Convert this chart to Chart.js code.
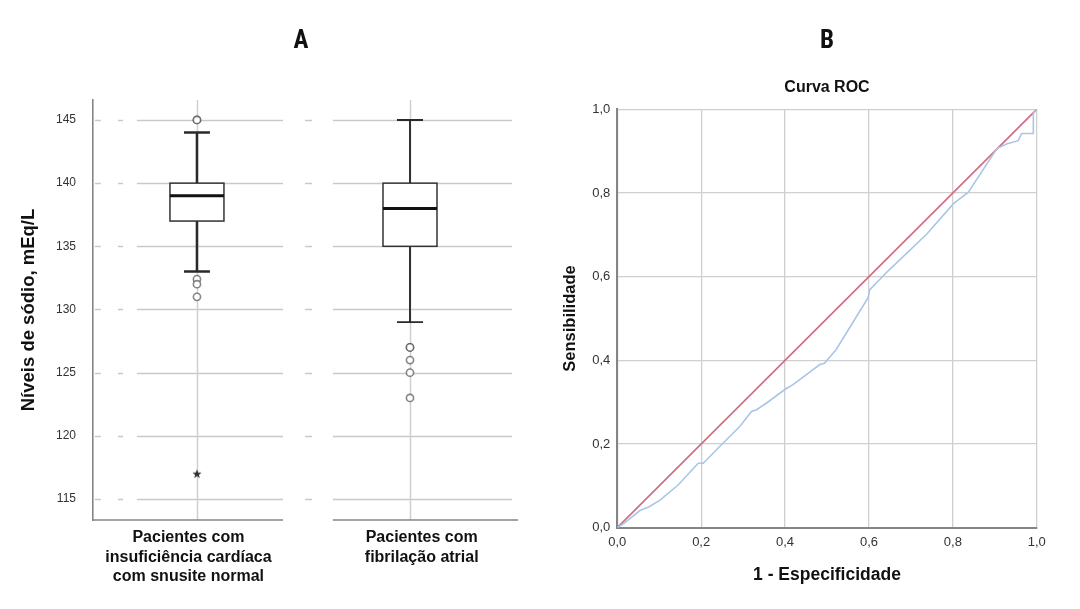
<!DOCTYPE html>
<html><head><meta charset="utf-8">
<script src="https://cdn.jsdelivr.net/npm/chart.js@4/dist/chart.umd.min.js"></script>
<style>
html,body{margin:0;padding:0;background:#fff;width:1080px;height:609px;overflow:hidden;position:relative}
#cA{position:absolute;left:0;top:0}
#cB{position:absolute;left:540px;top:0}
</style></head><body>
<canvas id="cA" width="602" height="609"></canvas>
<canvas id="cB" width="574" height="609"></canvas>
<script>
// ---------- DATA ----------
const panelTitles = ['A', 'B'];
const rocTitle = 'Curva ROC';
const categories = [["Pacientes com","insuficiência cardíaca","com snusite normal"],["Pacientes com","fibrilação atrial"]];
const categoryPos = [1, 2];
const whiskerLow  = [133, 129];
const q1          = [137, 135];
const median      = [139, 138];
const q3          = [140, 140];
const whiskerHigh = [144, 145];
const outliers    = [[145, 145, 132.4, 132, 131], [127, 127, 126, 125, 123]];
const extremes    = [[117], []];
const yTicks      = [115, 120, 125, 130, 135, 140, 145];

const rocFpr = [0, 0.015, 0.054, 0.076, 0.102, 0.145, 0.193, 0.205, 0.244, 0.292, 0.320, 0.332, 0.356, 0.402, 0.419, 0.483, 0.494, 0.522, 0.598, 0.602, 0.646, 0.738, 0.801, 0.837, 0.905, 0.928, 0.956, 0.964, 0.992, 0.992, 1.0];
const rocTpr = [0, 0.010, 0.041, 0.050, 0.066, 0.102, 0.154, 0.154, 0.194, 0.242, 0.278, 0.282, 0.298, 0.332, 0.342, 0.390, 0.393, 0.426, 0.550, 0.569, 0.614, 0.702, 0.774, 0.802, 0.906, 0.917, 0.925, 0.942, 0.942, 0.990, 1.0];
const refX = [0, 1];
const refY = [0, 1];
const rocTicks = [0, 0.2, 0.4, 0.6, 0.8, 1.0];

// ---------- STYLE ----------
const SF = "'Liberation Sans',Arial,sans-serif";
const CF = "'Roboto Condensed','Open Sans Condensed',sans-serif";
const GRID = '#c9c9c9';
const AXIS = '#858585';
const gridPieces = [[0.521,0.549],[0.629,0.653],[0.718,1.404],[1.507,1.540],[1.638,2.479]];
const axisPieces = [[0.512,1.404],[1.638,2.507]];
const labelShift = [-0.04, 0.055];
const whiskerWidth = [2.5, 1.9];
const BOX_HALF = 27, CAP_HALF = 13;

Chart.defaults.animation = false;

// invisible right-side spacer axis (keeps titles centred over the whole panel)
const spacer = w => ({ type: 'linear', position: 'right', display: true,
  grid: { display: false, drawTicks: false }, border: { display: false },
  ticks: { display: false }, afterFit: s => { s.width = w; } });

const star = document.createElement('canvas');
star.width = 10; star.height = 10;
(function(){
  const c = star.getContext('2d');
  c.fillStyle = '#333';
  c.beginPath();
  for (let i = 0; i < 10; i++) {
    const r = i % 2 ? 2 : 4.8;
    const a = -Math.PI/2 + i*Math.PI/5;
    const x = 5 + r*Math.cos(a), y = 5.3 + r*Math.sin(a);
    i ? c.lineTo(x,y) : c.moveTo(x,y);
  }
  c.closePath(); c.fill();
})();

const boxPlugin = {
  id: 'boxPlugin',
  beforeDatasetsDraw(chart) {
    const ctx = chart.ctx, xs = chart.scales.x, ys = chart.scales.y, ca = chart.chartArea;
    ctx.save();
    ctx.strokeStyle = GRID; ctx.lineWidth = 1.5;
    yTicks.forEach(v => {
      const y = Math.round(ys.getPixelForValue(v)) + 0.5;
      gridPieces.forEach(p => {
        ctx.beginPath();
        ctx.moveTo(xs.getPixelForValue(p[0]), y);
        ctx.lineTo(xs.getPixelForValue(p[1]), y);
        ctx.stroke();
      });
    });
    ctx.strokeStyle = '#d0d0d0';
    categoryPos.forEach(c => {
      const x = Math.round(xs.getPixelForValue(c)) + 0.5;
      ctx.beginPath(); ctx.moveTo(x, ca.top); ctx.lineTo(x, ca.bottom); ctx.stroke();
    });
    ctx.strokeStyle = AXIS; ctx.lineWidth = 1.6;
    axisPieces.forEach(p => {
      ctx.beginPath();
      ctx.moveTo(xs.getPixelForValue(p[0]), ca.bottom);
      ctx.lineTo(xs.getPixelForValue(p[1]), ca.bottom);
      ctx.stroke();
    });
    categoryPos.forEach((c, i) => {
      const x = xs.getPixelForValue(c);
      const yl = ys.getPixelForValue(whiskerLow[i]), yh = ys.getPixelForValue(whiskerHigh[i]);
      const y1 = ys.getPixelForValue(q1[i]), y3 = ys.getPixelForValue(q3[i]), ym = ys.getPixelForValue(median[i]);
      ctx.strokeStyle = '#2a2a2a'; ctx.lineWidth = whiskerWidth[i];
      ctx.beginPath();
      ctx.moveTo(x, y3); ctx.lineTo(x, yh);
      ctx.moveTo(x - CAP_HALF, yh); ctx.lineTo(x + CAP_HALF, yh);
      ctx.moveTo(x, y1); ctx.lineTo(x, yl);
      ctx.moveTo(x - CAP_HALF, yl); ctx.lineTo(x + CAP_HALF, yl);
      ctx.stroke();
      ctx.fillStyle = '#fff';
      ctx.fillRect(x - BOX_HALF, y3, BOX_HALF*2, y1 - y3);
      ctx.lineWidth = 1.5; ctx.strokeStyle = '#333';
      ctx.strokeRect(x - BOX_HALF, y3, BOX_HALF*2, y1 - y3);
      ctx.lineWidth = 3; ctx.strokeStyle = '#111';
      ctx.beginPath(); ctx.moveTo(x - BOX_HALF, ym); ctx.lineTo(x + BOX_HALF, ym); ctx.stroke();
    });
    ctx.restore();
  }
};

const outPts = [], extPts = [];
categoryPos.forEach((c, i) => {
  outliers[i].forEach(v => outPts.push({x: c, y: v}));
  extremes[i].forEach(v => extPts.push({x: c, y: v}));
});

new Chart(document.getElementById('cA'), {
  type: 'scatter',
  data: { datasets: [
    { data: outPts, pointStyle: 'circle', pointRadius: 3.6, borderWidth: 1.6,
      borderColor: 'rgba(60,60,60,0.62)', backgroundColor: '#fff' },
    { data: extPts, pointStyle: star, pointRadius: 5 }
  ]},
  options: {
    responsive: false, devicePixelRatio: 1,
    layout: { padding: 0 },
    plugins: {
      legend: { display: false }, tooltip: { enabled: false },
      title: { display: true, text: panelTitles[0], color: '#111',
        font: { family: CF, size: 25, weight: 'bold', lineHeight: 1.2 },
        padding: { top: 27, bottom: 43 } }
    },
    scales: {
      x: {
        type: 'linear', min: 0.512, max: 2.507,
        afterBuildTicks: s => { s.ticks = categoryPos.map((v, i) => ({value: v + labelShift[i]})); },
        afterFit: s => { s.height = 89; },
        grid: { display: false, drawTicks: false }, border: { display: false },
        ticks: { autoSkip: false, maxRotation: 0, padding: 8, color: '#111',
          font: { family: SF, size: 16, weight: 'bold', lineHeight: 1.22 },
          callback: (v, i) => categories[i] }
      },
      y: {
        min: 113.34, max: 146.58,
        afterBuildTicks: s => { s.ticks = yTicks.map(v => ({value: v})); },
        afterFit: s => { s.width = 93; },
        grid: { display: false, drawTicks: false },
        border: { display: true, color: AXIS, width: 1.6 },
        ticks: { padding: 17, color: '#333', font: { family: SF, size: 12 } },
        title: { display: true, text: 'Níveis de sódio, mEq/L', color: '#111',
          font: { family: SF, size: 18.5, weight: 'bold' }, padding: { top: 18 } }
      },
      pad: spacer(84)
    }
  },
  plugins: [boxPlugin]
});

const fmt = v => v.toFixed(1).replace('.', ',');
new Chart(document.getElementById('cB'), {
  type: 'scatter',
  data: { datasets: [
    { data: rocFpr.map((x, i) => ({x, y: rocTpr[i]})), showLine: true, pointRadius: 0,
      borderColor: '#a9c6e6', borderWidth: 1.6 },
    { data: refX.map((x, i) => ({x, y: refY[i]})), showLine: true, pointRadius: 0,
      borderColor: '#d26b7e', borderWidth: 1.6 }
  ]},
  options: {
    responsive: false, devicePixelRatio: 1,
    layout: { padding: 0 },
    plugins: {
      legend: { display: false }, tooltip: { enabled: false },
      title: { display: true, text: panelTitles[1], color: '#111',
        font: { family: CF, size: 25, weight: 'bold', lineHeight: 1.2 },
        padding: { top: 27, bottom: 0 } },
      subtitle: { display: true, text: rocTitle, color: '#111',
        font: { family: SF, size: 16, weight: 'bold', lineHeight: 1.2 },
        padding: { top: 21.4, bottom: 11.7 } }
    },
    scales: {
      x: {
        min: 0, max: 1,
        afterBuildTicks: s => { s.ticks = rocTicks.map(v => ({value: v})); },
        afterFit: s => { s.height = 81.3; },
        grid: { color: '#cfcfcf', lineWidth: 1.3, drawTicks: false },
        border: { color: AXIS, width: 2 },
        ticks: { padding: 7, color: '#333', font: { family: SF, size: 13 }, callback: fmt },
        title: { display: true, text: '1 - Especificidade', color: '#111',
          font: { family: SF, size: 17.5, weight: 'bold' }, padding: { bottom: 23.5 } }
      },
      y: {
        min: 0, max: 1,
        afterBuildTicks: s => { s.ticks = rocTicks.map(v => ({value: v})); },
        afterFit: s => { s.width = 77.3; },
        grid: { color: '#cfcfcf', lineWidth: 1.3, drawTicks: false },
        border: { color: AXIS, width: 2 },
        ticks: { padding: 7, color: '#333', font: { family: SF, size: 13 }, callback: fmt },
        title: { display: true, text: 'Sensibilidade', color: '#111',
          font: { family: SF, size: 16.5, weight: 'bold' }, padding: { top: 21 } }
      },
      pad: spacer(77.3)
    }
  }
});
</script>
</body></html>
